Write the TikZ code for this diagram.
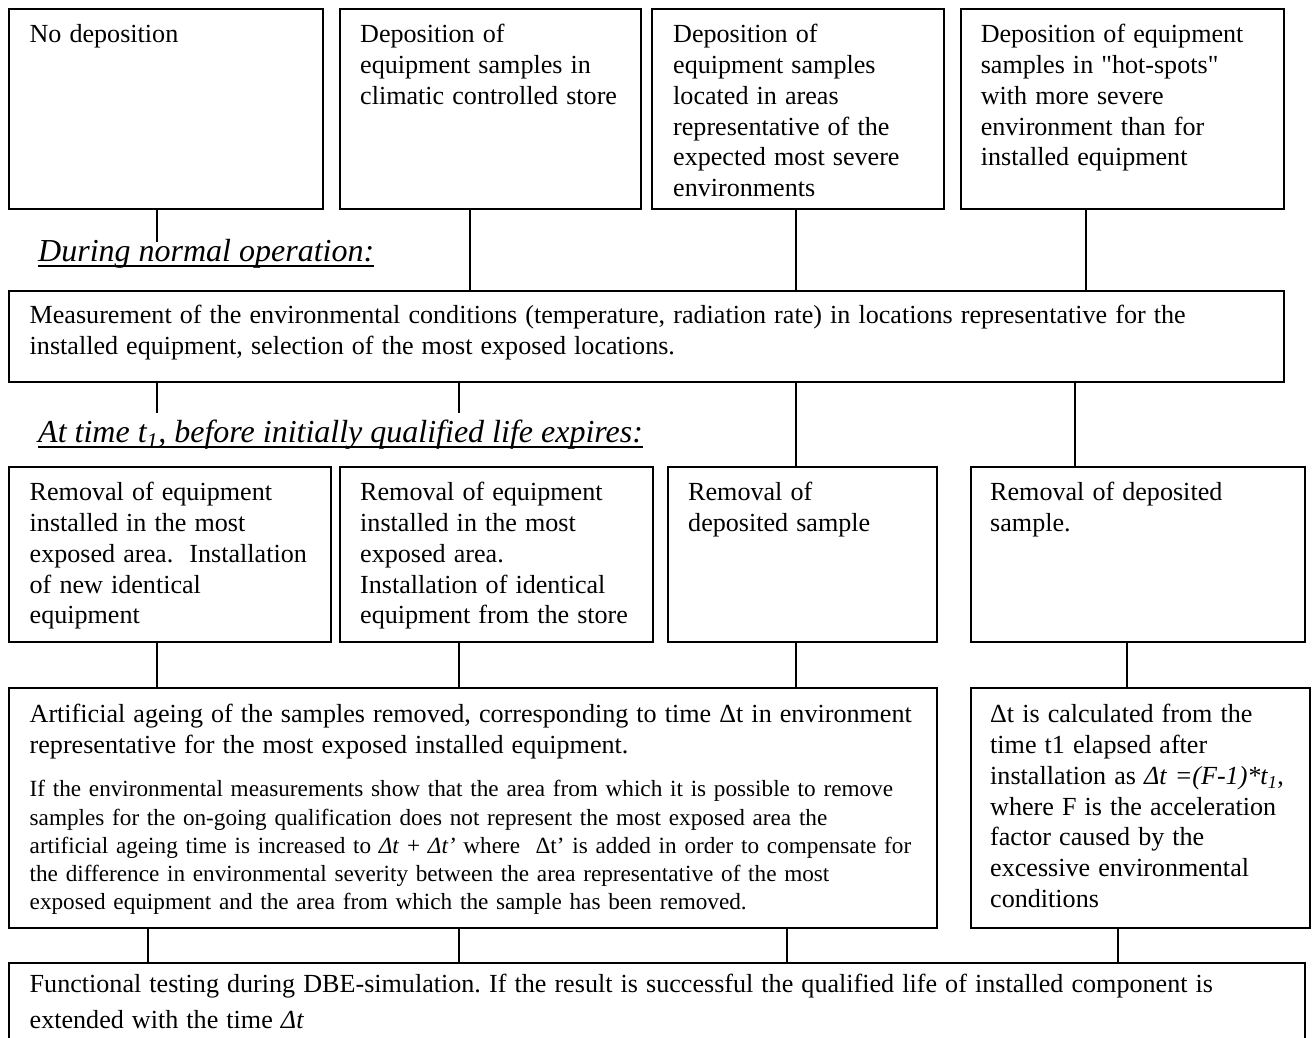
\documentclass[tikz,border=0pt]{standalone}
\usepackage{fontspec}
\setmainfont{Liberation Serif}[Ligatures=TeXOff]
\frenchspacing
\begin{document}
\begin{tikzpicture}[x=1pt,y=-1pt,
  box/.style={draw, line width=2pt, inner sep=0pt, anchor=north west},
  txt/.style={inner sep=0pt, anchor=base west, align=left, text width=#1,
    font=\fontsize{26.1}{30.8}\selectfont\frenchspacing,
    execute at begin node={\spaceskip=0.31em\relax}},
  txt/.default=330pt,
  small/.style={inner sep=0pt, anchor=base west, align=left, text width=#1,
    font=\fontsize{23.2}{28.3}\selectfont\frenchspacing},
  lab/.style={inner sep=0pt, anchor=base west, font=\fontsize{32}{36}\selectfont\itshape},
  conn/.style={line width=1.8pt},
  uline/.style={line width=1.5pt}]
\useasboundingbox (0,0) rectangle (1312,1038);
\clip (0,0) rectangle (1312,1038);

% ---- top row
\node[box, minimum width=313.6pt, minimum height=199.7pt] (b1) at (8.4,8.3) {};
\node[box, minimum width=301pt,   minimum height=199.7pt] (b2) at (339,8.3) {};
\node[box, minimum width=292pt,   minimum height=199.7pt] (b3) at (651,8.3) {};
\node[box, minimum width=323pt,   minimum height=199.7pt] (b4) at (960,8.3) {};
\node[txt] (t1) at (29.4,42.7) {No deposition};
\node[txt] (t2) at (360,42.7) {Deposition of\\equipment samples in\\climatic controlled store};
\node[txt] (t3) at (673,42.7) {Deposition of\\equipment samples\\located in areas\\representative of the\\expected most severe\\environments};
\node[txt] (t4) at (980.6,42.7) {Deposition of equipment\\samples in "hot-spots"\\with more severe\\environment than for\\installed equipment};

\node[lab] (l1) at (38,261) {During normal operation:};
\draw[uline] ([yshift=-5pt]l1.base west) -- ([yshift=-5pt]l1.base east);

% ---- measurement
\node[box, minimum width=1274.6pt, minimum height=90.7pt] (m) at (8.4,290) {};
\node[txt=1260pt] (tm) at (29.5,323.3) {Measurement of the environmental conditions (temperature, radiation rate) in locations representative for the\\installed equipment, selection of the most exposed locations.};

\node[lab] (l2) at (38,442) {At time t\textsubscript{1}, before initially qualified life expires:};
\draw[uline] ([yshift=-5pt]l2.base west) -- ([yshift=-5pt]l2.base east);

% ---- removal row
\node[box, minimum width=321.1pt, minimum height=175pt] (bA) at (8.4,466) {};
\node[box, minimum width=312.5pt, minimum height=175pt] (bB) at (339,466) {};
\node[box, minimum width=269pt,   minimum height=175pt] (bC) at (667,466) {};
\node[box, minimum width=334.4pt, minimum height=175pt] (bD) at (969.6,466) {};
\node[txt] (tA) at (29.5,500.7) {Removal of equipment\\installed in the most\\exposed area.\ \ Installation\\of new identical\\equipment};
\node[txt] (tB) at (360,500.7) {Removal of equipment\\installed in the most\\exposed area.\\Installation of identical\\equipment from the store};
\node[txt] (tC) at (688,500.7) {Removal of\\deposited sample};
\node[txt] (tD) at (990,500.7) {Removal of deposited\\sample.};

% ---- ageing row
\node[box, minimum width=927.6pt, minimum height=240.6pt] (ag) at (8.4,686.7) {};
\node[box, minimum width=339pt,   minimum height=240.6pt] (dt) at (969.6,686.7) {};
\node[txt=910pt] (tag1) at (29.5,722.7) {Artificial ageing of the samples removed, corresponding to time Δt in environment\\representative for the most exposed installed equipment.};
\node[small=910pt] (tag2) at (29.5,796.7) {If the environmental measurements show that the area from which it is possible to remove\\samples for the on-going qualification does not represent the most exposed area the\\artificial ageing time is increased to \textit{Δt} + \textit{Δt’} where \ Δt’ is added in order to compensate for\\the difference in environmental severity between the area representative of the most\\exposed equipment and the area from which the sample has been removed.};
\node[txt] (tdt) at (990,722.7) {Δt is calculated from the\\time t1 elapsed after\\installation as \textit{Δt =(F-1)*t\textsubscript{1}},\\where F is the acceleration\\factor caused by the\\excessive environmental\\conditions};

% ---- functional testing
\node[box, minimum width=1295.6pt, minimum height=110pt] (fn) at (8.4,961.7) {};
\node[txt=1270pt, font=\fontsize{26.1}{35.5}\selectfont] (tfn) at (29.5,992.7) {Functional testing during DBE-simulation. If the result is successful the qualified life of installed component is\\extended with the time \textit{Δt}};

% ---- connector x positions and free ends
\coordinate (xa) at (156.6,0);
\coordinate (xb) at (470,0);
\coordinate (xc) at (795.7,0);
\coordinate (xd) at (1085.7,0);
\coordinate (xe) at (458.8,0);
\coordinate (xf) at (1075,0);
\coordinate (xg) at (1127,0);
\coordinate (xh) at (148,0);
\coordinate (xi) at (787,0);
\coordinate (xj) at (1117.8,0);
\coordinate (e1) at (156.6,242);
\coordinate (e2) at (156.6,413);
\coordinate (e3) at (458.8,413);

% top row -> measurement
\draw[conn] (b1.south -| xa) -- (e1);
\draw[conn] (b2.south -| xb) -- (m.north -| xb);
\draw[conn] (b3.south -| xc) -- (m.north -| xc);
\draw[conn] (b4.south -| xd) -- (m.north -| xd);
% measurement -> removal row
\draw[conn] (m.south -| xa) -- (e2);
\draw[conn] (m.south -| xe) -- (e3);
\draw[conn] (m.south -| xc) -- (bC.north -| xc);
\draw[conn] (m.south -| xf) -- (bD.north -| xf);
% removal row -> ageing row
\draw[conn] (bA.south -| xa) -- (ag.north -| xa);
\draw[conn] (bB.south -| xe) -- (ag.north -| xe);
\draw[conn] (bC.south -| xc) -- (ag.north -| xc);
\draw[conn] (bD.south -| xg) -- (dt.north -| xg);
% ageing row -> functional
\draw[conn] (ag.south -| xh) -- (fn.north -| xh);
\draw[conn] (ag.south -| xe) -- (fn.north -| xe);
\draw[conn] (ag.south -| xi) -- (fn.north -| xi);
\draw[conn] (dt.south -| xj) -- (fn.north -| xj);
\end{tikzpicture}
\end{document}
